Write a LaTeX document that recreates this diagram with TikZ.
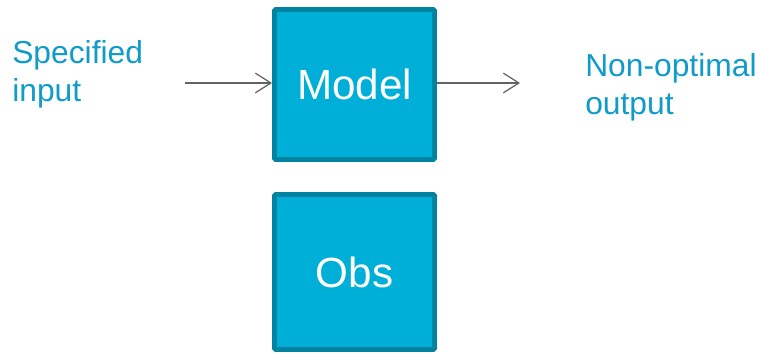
\documentclass[tikz,border=0pt]{standalone}
\usepackage{fontspec}
\setmainfont{Liberation Sans}
\usetikzlibrary{arrows.meta}

\begin{document}
\begin{tikzpicture}[x=0.025cm,y=-0.025cm]
\definecolor{boxfill}{RGB}{0,175,216}
\definecolor{boxline}{RGB}{0,131,160}
\definecolor{labelcolor}{RGB}{16,155,201}
\definecolor{arrowcolor}{RGB}{100,100,100}
\tikzset{
  block/.style={draw=boxline,fill=boxfill,line width=3.5pt,rounded corners=1pt,
    minimum width=4.0cm,text=white,font=\fontsize{30}{36}\selectfont},
  label/.style={text=labelcolor,align=left,inner sep=0pt,anchor=base west,
    font=\fontsize{22.6}{27}\selectfont},
  flow/.style={draw=arrowcolor,line width=0.9pt,-{Straight Barb[length=11pt,width=14pt]}}
}
\useasboundingbox (0,0) rectangle (759,355);
\node[block,minimum height=3.75cm] (model) at (354.5,84.5) {Model};
\node[block,minimum height=3.875cm] (obs) at (354.5,272) {Obs};
% anchor is on the second line's baseline
\node[label] (spec) at (12,101.5) {Specified\\input};
\node[label] (nonopt) at (585,114.5) {Non-optimal\\output};
\coordinate (in) at (185,83);
\coordinate (out) at (520,83);
\draw[flow] (in) -- (in -| model.west);
\draw[flow] (out -| model.east) -- (out);
\end{tikzpicture}
\end{document}
